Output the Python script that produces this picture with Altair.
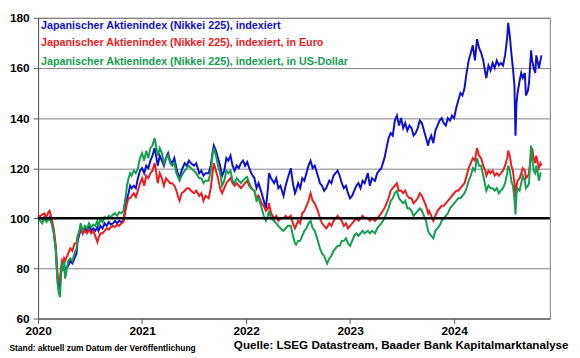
import altair as alt
import pandas as pd

# time as year fraction
t = [2020.00,2020.02,2020.04,2020.06,2020.08,2020.10,2020.11,2020.13,2020.15,2020.17,2020.18,2020.19,2020.20,2020.21,2020.22,2020.23,2020.24,2020.25,2020.26,2020.27,2020.29,2020.31,2020.33,2020.35,2020.37,2020.38,2020.40,2020.41,2020.43,2020.45,2020.47,2020.49,2020.51,2020.53,2020.55,2020.57,2020.58,2020.60,2020.62,2020.64,2020.66,2020.68,2020.70,2020.72,2020.74,2020.76,2020.78,2020.80,2020.82,2020.84,2020.855,2020.87,2020.885,2020.90,2020.92,2020.94,2020.96,2020.98,
     2021.00,2021.02,2021.04,2021.06,2021.08,2021.10,2021.12,2021.13,2021.15,2021.17,2021.19,2021.21,2021.23,2021.25,2021.27,2021.29,2021.31,2021.33,2021.35,2021.36,2021.38,2021.41,2021.43,2021.45,2021.47,2021.50,2021.52,2021.55,2021.57,2021.59,2021.61,2021.64,2021.66,2021.68,2021.69,2021.71,2021.73,2021.75,2021.77,2021.79,2021.81,2021.83,2021.85,2021.87,2021.89,2021.91,2021.93,2021.95,2021.97,2021.99,
     2022.01,2022.03,2022.05,2022.08,2022.10,2022.12,2022.15,2022.17,2022.19,2022.21,2022.22,2022.24,2022.27,2022.29,2022.31,2022.33,2022.36,2022.38,2022.40,2022.43,2022.45,2022.47,2022.48,2022.50,2022.52,2022.54,2022.56,2022.58,2022.60,2022.62,2022.64,2022.66,2022.69,2022.71,2022.73,2022.75,2022.77,2022.78,2022.80,2022.82,2022.84,2022.86,2022.88,2022.90,2022.92,2022.94,2022.96,2022.98,
     2023.00,2023.02,2023.04,2023.06,2023.08,2023.10,2023.12,2023.14,2023.17,2023.19,2023.21,2023.24,2023.26,2023.28,2023.30,2023.33,2023.35,2023.37,2023.39,2023.41,2023.43,2023.45,2023.47,2023.49,2023.51,2023.53,2023.55,2023.57,2023.59,2023.61,2023.63,2023.65,2023.67,2023.69,2023.71,2023.73,2023.75,2023.76,2023.78,2023.80,2023.82,2023.84,2023.86,2023.88,2023.90,2023.92,2023.94,2023.96,2023.98,
     2024.00,2024.02,2024.04,2024.06,2024.08,2024.10,2024.12,2024.14,2024.16,2024.18,2024.20,2024.22,2024.24,2024.26,2024.28,2024.30,2024.31,2024.33,2024.35,2024.37,2024.39,2024.41,2024.43,2024.45,2024.47,2024.49,2024.51,2024.52,2024.535,2024.55,2024.565,2024.58,2024.59,2024.60,2024.61,2024.63,2024.645,2024.66,2024.68,2024.69,2024.71,2024.72,2024.74,2024.75,2024.765,2024.78,2024.79,2024.80,2024.815,2024.83,2024.84]

blue = [100,100.5,99.5,100.5,99,100,100.5,98.5,95,88,80,74,72,73,78,81,80,82,79,80,81,83,82,84,86,91,94,96,94,96,95,97,95,96,95,96.5,95,97,96,98,97,98.5,97.5,98,99,98,99,98.5,99,104,108,110,113,112,113,112,116,119,
        120,118,121,120,123,125,128,126,121,125,123,121,124,126,123,122,124,120,117,116,119,122,121,123,122,121,122,118,119,117,118,118,121,127,129,127,124,121,117,119,124,123,125,121,119,121,120,122,123,121,
        122.5,120,118,116,112,114,110,107,104,112,118,116,114,116,112,113,109,113,116,120,114,110,111,114,112,116,115,118,121,123,120,121,117,114,113,111,112,113,115,114,117,118,119,117,114,112,113,110,
        108,109,111,113,114,112,115,114,118,113,116,115,118,119,120,124,128,132,134,133,139,141,137,140,136,138,135,137,136,133,134,136,139,138,135,132,129,131,133,130,135,137,139,140,138,137,140,139,141,
        140,144,147,150,149,152,158,163,166,169,163,171.5,168,166,163,158,156,161,159,162,160,163,161,162,161,165,172,178,173,166,160,153,133,146,150,155,158,156,158,149,151,154,167,163,160,158,165,163,160,163,165]

red = [100,101,101.5,102,100.5,102.5,103,100,96,89,82,76,75,76,80,83,82,84,83,84,86,88,87,90,90,93,95,96,94,95,94,95.5,94,95,93,90.5,92,94,94,95,96,95.5,96.5,97,96.5,97.5,97,98,98.5,103,106,108,108,109,110,108.5,111,114,
       116,113,117,116,118,119,122,120,114,118,116,113,116,115,114,114,113,111,108,107,110,111,112,112,111,110,111,109,110,107,109,108,112,119,122,119,116,112,110,112,114,115,116,114,113,114,113,112,113,114,
       115,113,112,111,108,109,106,105,103,104,106,102,100,101,99,100,100,101,100,101,98,96,97,99,98,102,103,105,107,110,107,106,103,100,98,97,96,96.5,98,97,99,100,101,100,99,97,98,96,
       97,98,99,100,99,100,101,100,100,99,100,99,100,101,102,104,106,108,111,112,113,114,111,111,110,111,109,108,108,106,107,108,110,109,107,105,102,103,101,99,101,103,104,105,105,106,107,108,109,
       110,111,111,112,113,114,117,120,122,124,123,128,125,124,121,119,117,119,118,119,117,118,117,118,119,121,124,127,125,121,119,114,108,113,115,116,118,120,119,116,117,118,126,128,124,122,125,123,120,122,121]

green = [100,99,98,100,98.5,99.5,100,98,94,87,80,73,70,68.5,76,82,79,83,76,78,83,84,83,86,88,92,96,98,95,97,96,98,96.5,97.5,97,99,97,99.5,98.5,100.5,100,101,100.5,101.5,102,101,102.5,102,103,108,113,116,118,117,119,118,120,124,
         126,123,127,124,128,129,132,130,125,128,126,122,124,125,122,121,122,118,116,115,117,119,120,121,120,119,118,116,116,114,115,115,119,126,128,125,121,118,113,115,119,118,119,115,114,116,115,114,115,116,
         116.5,114,112,111,107,108,104,101,99,101,103,100,99,98,97,96,95,96,97,97,93,90,89.5,91,91,93,95,96,98,99,96,95,91,88,86,85,83,82,84,85,87,88,89,89,91,91,92,90,
         89,91,93,94,93,94,95,94,95,94,95,94,96,97,98,100,102,104,107,108,110,111,108,107,106,107,104,104,103,101,102,103,104,103,101,99,95,94,93,92,95,96,97,99,100,101,102,104,105,
         106,107,108,108,109,110,112,115,117,120,119,124,121,121,117,113,111,113,112,112,111,112,110,111,112,114,118,121,119,115,113,108,101.5,110,112,111,114,117,115,112,113,114,129,124,119,118,121,119,115,118,118]

series_names = ["Japanischer Aktienindex (Nikkei 225), indexiert",
                "Japanischer Aktienindex (Nikkei 225), indexiert, in Euro",
                "Japanischer Aktienindex (Nikkei 225), indexiert, in US-Dollar"]
colors = ["#1010D0", "#EE1C1C", "#12A050"]
year_ticks = [2020, 2021, 2022, 2023, 2024]
y_ticks = [60, 80, 100, 120, 140, 160, 180]

rows = []
for name, vals in zip(series_names, [blue, red, green]):
    for tt, v in zip(t, vals):
        rows.append({"t": tt, "v": v, "s": name})
df = pd.DataFrame(rows)

lines = alt.Chart(df).mark_line(strokeWidth=2).encode(
    x=alt.X("t:Q", scale=alt.Scale(domain=[2020, 2024.92], nice=False, zero=False),
            axis=alt.Axis(values=year_ticks, format="d", title=None, grid=False,
                          labelFont="Liberation Sans", labelFontWeight="bold", labelFontSize=12,
                          labelColor="black", tickColor="#595959", domainColor="#595959",
                          tickSize=5, labelPadding=2, labelFlush=False)),
    y=alt.Y("v:Q", scale=alt.Scale(domain=[60, 180], nice=False, zero=False),
            axis=alt.Axis(values=y_ticks, title=None, grid=True, gridColor="#808080",
                          gridWidth=1, labelFont="Liberation Sans", labelFontWeight="bold",
                          labelFontSize=12, labelColor="black", tickColor="#595959",
                          domainColor="#595959", tickSize=5, labelPadding=4)),
    color=alt.Color("s:N", scale=alt.Scale(domain=series_names, range=colors), legend=None),
    detail="s:N",
)

base_line = alt.Chart(pd.DataFrame({"y": [100]})).mark_rule(color="black", strokeWidth=2.5).encode(
    y="y:Q"
)

leg_df = pd.DataFrame({"s": series_names, "c": colors, "yy": [8.5, 25.5, 44.5]})
legend_text = alt.Chart(leg_df).mark_text(
    align="left", baseline="middle", font="Liberation Sans", fontWeight="bold", fontSize=10.9
).encode(
    x=alt.value(3), y=alt.Y("yy:Q", scale=None),
    text="s:N", color=alt.Color("c:N", scale=None)
)

foot_left = alt.Chart(pd.DataFrame({"txt": ["Stand: aktuell zum Datum der Veröffentlichung"]})).mark_text(
    align="left", baseline="middle", font="Liberation Sans", fontWeight="bold", fontSize=8.5, color="black"
).encode(x=alt.value(-29), y=alt.value(334.5), text="txt:N")

foot_right = alt.Chart(pd.DataFrame({"txt": ["Quelle: LSEG Datastream, Baader Bank Kapitalmarktanalyse"]})).mark_text(
    align="right", baseline="middle", font="Liberation Sans", fontWeight="bold", fontSize=11.8, color="black"
).encode(x=alt.value(538), y=alt.value(331.5), text="txt:N")

chart = alt.layer(lines, base_line, legend_text, foot_left, foot_right).properties(
    width=519, height=305,
    autosize=alt.AutoSizeParams(type="none"),
    padding={"left": 30.5, "top": 7.5, "right": 22.5, "bottom": 34},
    background="white",
).configure_view(stroke="#808080", strokeWidth=1)

chart.save("out.html", embed_options={"renderer": "svg", "actions": False})
